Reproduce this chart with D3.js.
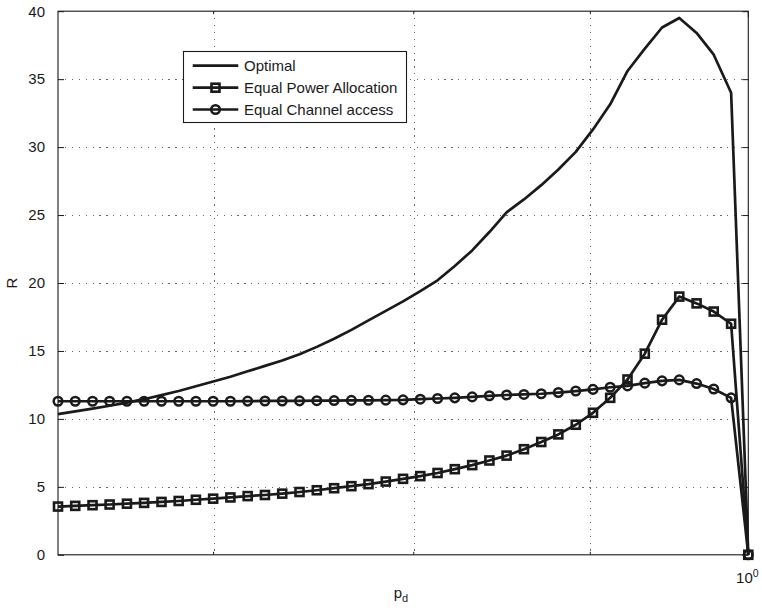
<!DOCTYPE html>
<html>
<head>
<meta charset="utf-8">
<script src="https://cdn.jsdelivr.net/npm/d3@7"></script>
<style>
  html, body { margin: 0; padding: 0; background: #fff; }
  svg { display: block; }
  text { font-family: "Liberation Sans", Arial, Helvetica, sans-serif; fill: #1a1a1a; }
</style>
</head>
<body>
<svg id="chart" width="762" height="610"></svg>
<script>
// Sample points p_d (log-spaced from 10^-0.2 up to 1)
const pd = [
  0.6310, 0.6383, 0.6457, 0.6531, 0.6607, 0.6683, 0.6761, 0.6839, 0.6918, 0.6998,
  0.7079, 0.7161, 0.7244, 0.7328, 0.7413, 0.7499, 0.7586, 0.7674, 0.7762, 0.7852,
  0.7943, 0.8035, 0.8128, 0.8222, 0.8318, 0.8414, 0.8511, 0.8610, 0.8710, 0.8810,
  0.8913, 0.9016, 0.9120, 0.9226, 0.9333, 0.9441, 0.9550, 0.9661, 0.9772, 0.9886,
  1.0000
];

// Rate R for each scheme
const optimal = [
  10.35, 10.55, 10.75, 10.97, 11.2, 11.45, 11.75, 12.05, 12.4, 12.75,
  13.1, 13.5, 13.9, 14.3, 14.75, 15.3, 15.9, 16.55, 17.25, 17.95,
  18.65, 19.4, 20.2, 21.25, 22.4, 23.75, 25.2, 26.15, 27.2, 28.35,
  29.65, 31.3, 33.15, 35.6, 37.25, 38.8, 39.5, 38.4, 36.8, 34.0,
  0
];
const equalPower = [
  3.55, 3.6, 3.65, 3.7, 3.76, 3.82, 3.89, 3.96, 4.05, 4.13,
  4.22, 4.32, 4.4, 4.5, 4.62, 4.75, 4.9, 5.05, 5.2, 5.39,
  5.59, 5.79, 6.02, 6.3, 6.6, 6.94, 7.3, 7.77, 8.3, 8.86,
  9.57, 10.45, 11.55, 12.9, 14.8, 17.3, 19.0, 18.5, 17.9, 17.0,
  0
];
const equalChannel = [
  11.3, 11.3, 11.3, 11.3, 11.3, 11.3, 11.3, 11.3, 11.3, 11.3,
  11.3, 11.31, 11.32, 11.32, 11.33, 11.34, 11.35, 11.36, 11.37, 11.38,
  11.4, 11.45, 11.5, 11.55, 11.62, 11.7, 11.76, 11.8, 11.85, 11.94,
  12.05, 12.17, 12.33, 12.43, 12.63, 12.8, 12.87, 12.6, 12.2, 11.55,
  0
];

const seriesNames = ["Optimal", "Equal Power Allocation", "Equal Channel access"];
const yTicks = [0, 5, 10, 15, 20, 25, 30, 35, 40];
const xMajorTicks = [1];
const xMinorTicks = [0.7, 0.8, 0.9];

const svg = d3.select("#chart");
const plot = { left: 58, right: 748.3, top: 11.2, bottom: 554.8 };
const ink = "#1a1a1a";

const x = d3.scaleLog().domain([pd[0], 1]).range([plot.left, plot.right]);
const y = d3.scaleLinear().domain([0, 40]).range([plot.bottom, plot.top]);

// dotted grid
const grid = svg.append("g").attr("stroke", "#666").attr("stroke-width", 1)
  .attr("stroke-dasharray", "1.2,5.7").attr("shape-rendering", "crispEdges");
grid.selectAll("line.gx").data(xMinorTicks).join("line")
  .attr("x1", d => Math.round(x(d)) + 0.5).attr("x2", d => Math.round(x(d)) + 0.5)
  .attr("y1", plot.top).attr("y2", plot.bottom);
grid.selectAll("line.gy").data(yTicks.slice(1, -1)).join("line")
  .attr("x1", plot.left).attr("x2", plot.right)
  .attr("y1", d => Math.round(y(d)) + 0.5).attr("y2", d => Math.round(y(d)) + 0.5);

// axes
const fontSize = 15;
const yAxis = d3.axisLeft(y).tickValues(yTicks).tickSizeInner(-6).tickSizeOuter(0).tickPadding(13);
svg.append("g").attr("transform", `translate(${plot.left},0)`).call(yAxis)
  .call(g => g.select(".domain").remove())
  .call(g => g.selectAll("line").attr("stroke", ink))
  .call(g => g.selectAll("text").attr("font-size", fontSize).attr("fill", ink));

const yAxisR = d3.axisRight(y).tickValues(yTicks).tickSizeInner(-6).tickSizeOuter(0).tickFormat("");
svg.append("g").attr("transform", `translate(${plot.right},0)`).call(yAxisR)
  .call(g => g.select(".domain").remove())
  .call(g => g.selectAll("line").attr("stroke", ink));

const xAxis = d3.axisBottom(x).tickValues(xMajorTicks).tickSizeInner(-6).tickSizeOuter(0).tickPadding(12).tickFormat(() => "");
const gx = svg.append("g").attr("transform", `translate(0,${plot.bottom})`).call(xAxis)
  .call(g => g.select(".domain").remove())
  .call(g => g.selectAll("line").attr("stroke", ink));
gx.selectAll(".tick text").attr("font-size", fontSize).attr("fill", ink)
  .attr("dy", "1.05em").attr("dx", "-0.1em")
  .each(function () {
    const t = d3.select(this);
    t.append("tspan").text("10");
    t.append("tspan").text("0").attr("font-size", 10.5).attr("dy", "-0.55em");
  });

// minor ticks along bottom and top
const minor = svg.append("g").attr("stroke", ink).attr("stroke-width", 1);
minor.selectAll("line.b").data(xMinorTicks).join("line")
  .attr("x1", d => x(d)).attr("x2", d => x(d))
  .attr("y1", plot.bottom).attr("y2", plot.bottom - 3);
minor.selectAll("line.t").data(xMinorTicks).join("line")
  .attr("x1", d => x(d)).attr("x2", d => x(d))
  .attr("y1", plot.top).attr("y2", plot.top + 3);
svg.append("line").attr("stroke", ink)
  .attr("x1", x(1)).attr("x2", x(1)).attr("y1", plot.top).attr("y2", plot.top + 6);

// axes box
svg.append("rect")
  .attr("x", plot.left).attr("y", plot.top)
  .attr("width", plot.right - plot.left).attr("height", plot.bottom - plot.top)
  .attr("fill", "none").attr("stroke", ink).attr("stroke-width", 1.1);

// axis titles
svg.append("text").attr("x", 401).attr("y", 598).attr("text-anchor", "middle")
  .attr("font-size", fontSize)
  .call(t => {
    t.append("tspan").text("p");
    t.append("tspan").text("d").attr("font-size", 11).attr("dy", "0.35em");
  });
svg.append("text").attr("transform", `translate(17,${(plot.top + plot.bottom) / 2}) rotate(-90)`)
  .attr("text-anchor", "middle").attr("font-size", fontSize).text("R");

// series
const lineWidth = 2.7;
const line = d3.line().x((d, i) => x(pd[i])).y(d => y(d));
const series = [
  { name: seriesNames[0], values: optimal, marker: null },
  { name: seriesNames[1], values: equalPower, marker: "square" },
  { name: seriesNames[2], values: equalChannel, marker: "circle" }
];

function drawMarker(g, kind, cx, cy) {
  if (kind === "square") {
    g.append("rect").attr("x", cx - 4).attr("y", cy - 4).attr("width", 8).attr("height", 8)
      .attr("fill", "none").attr("stroke", ink).attr("stroke-width", 2.6);
  } else if (kind === "circle") {
    g.append("circle").attr("cx", cx).attr("cy", cy).attr("r", 4.3)
      .attr("fill", "none").attr("stroke", ink).attr("stroke-width", 2.5);
  }
}

series.forEach(s => {
  const g = svg.append("g");
  g.append("path").datum(s.values).attr("d", line)
    .attr("fill", "none").attr("stroke", ink).attr("stroke-width", lineWidth)
    .attr("stroke-linejoin", "round");
  if (s.marker) {
    s.values.forEach((v, i) => drawMarker(g, s.marker, x(pd[i]), y(v)));
  }
});

// legend
const lg = svg.append("g");
lg.append("rect").attr("x", 183.5).attr("y", 51.5).attr("width", 223).attr("height", 71)
  .attr("fill", "#fff").attr("stroke", ink).attr("stroke-width", 1.1);
const rowY = [65.7, 87.7, 109.5];
series.forEach((s, k) => {
  lg.append("line").attr("x1", 192.7).attr("x2", 238.3).attr("y1", rowY[k]).attr("y2", rowY[k])
    .attr("stroke", ink).attr("stroke-width", lineWidth);
  if (s.marker) drawMarker(lg, s.marker, 215.5, rowY[k]);
  lg.append("text").attr("x", 244).attr("y", rowY[k]).attr("dy", "0.36em")
    .attr("font-size", fontSize).text(s.name);
});
</script>
</body>
</html>
